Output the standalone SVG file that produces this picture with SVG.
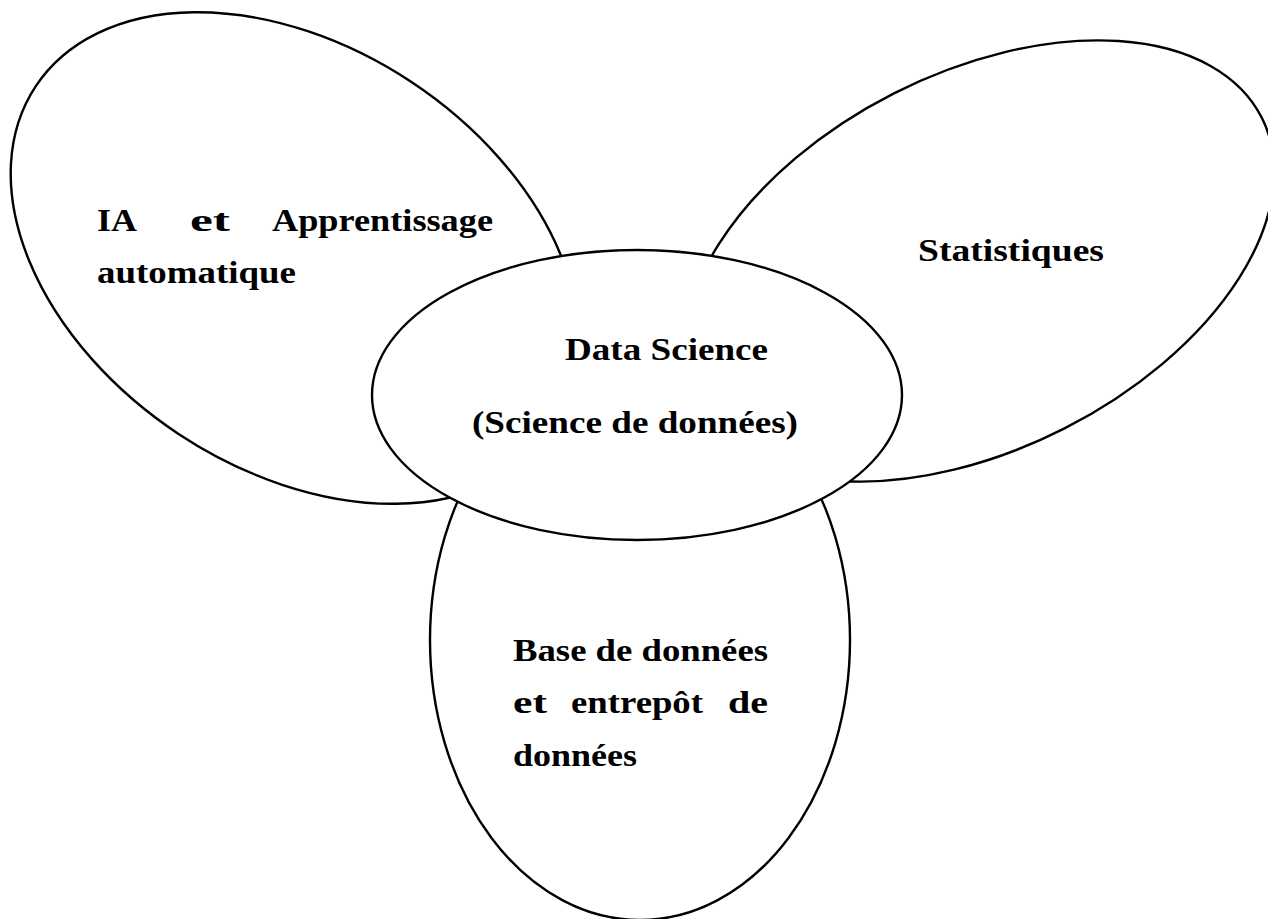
<svg xmlns="http://www.w3.org/2000/svg" width="1268" height="919" viewBox="0 0 1268 919">
<style>
.sh{fill:#fff;stroke:#000;stroke-width:2.4}
.t{font-family:"Liberation Serif","Times New Roman",serif;font-weight:bold;font-size:31px;fill:#000}
</style>
<rect width="1268" height="919" fill="#fff"/>
<g id="ia">
<ellipse class="sh" cx="295" cy="258" rx="311" ry="211" transform="rotate(33.5 295 258)"/>
<text class="t" x="97" y="231" textLength="40" lengthAdjust="spacingAndGlyphs">IA</text>
<text class="t" x="190" y="231" textLength="40" lengthAdjust="spacingAndGlyphs">et</text>
<text class="t" x="272" y="231" textLength="221" lengthAdjust="spacingAndGlyphs">Apprentissage</text>
<text class="t" x="97" y="283" textLength="199" lengthAdjust="spacingAndGlyphs">automatique</text>
</g>
<g id="stats">
<ellipse class="sh" cx="979" cy="261" rx="317" ry="188" transform="rotate(-26.9 979 261)"/>
<text class="t" x="918" y="261" textLength="186" lengthAdjust="spacingAndGlyphs">Statistiques</text>
</g>
<g id="db">
<ellipse class="sh" cx="640" cy="640" rx="210" ry="280"/>
<text class="t" x="513" y="661" textLength="255" lengthAdjust="spacingAndGlyphs">Base de données</text>
<text class="t" x="513" y="713" textLength="34" lengthAdjust="spacingAndGlyphs">et</text>
<text class="t" x="571" y="713" textLength="132" lengthAdjust="spacingAndGlyphs">entrepôt</text>
<text class="t" x="728" y="713" textLength="40" lengthAdjust="spacingAndGlyphs">de</text>
<text class="t" x="513" y="766" textLength="124" lengthAdjust="spacingAndGlyphs">données</text>
</g>
<g id="ds">
<ellipse class="sh" cx="637" cy="395" rx="265" ry="145"/>
<text class="t" x="565" y="360" textLength="203" lengthAdjust="spacingAndGlyphs">Data Science</text>
<text class="t" x="472" y="433" textLength="326" lengthAdjust="spacingAndGlyphs">(Science de données)</text>
</g>
</svg>
